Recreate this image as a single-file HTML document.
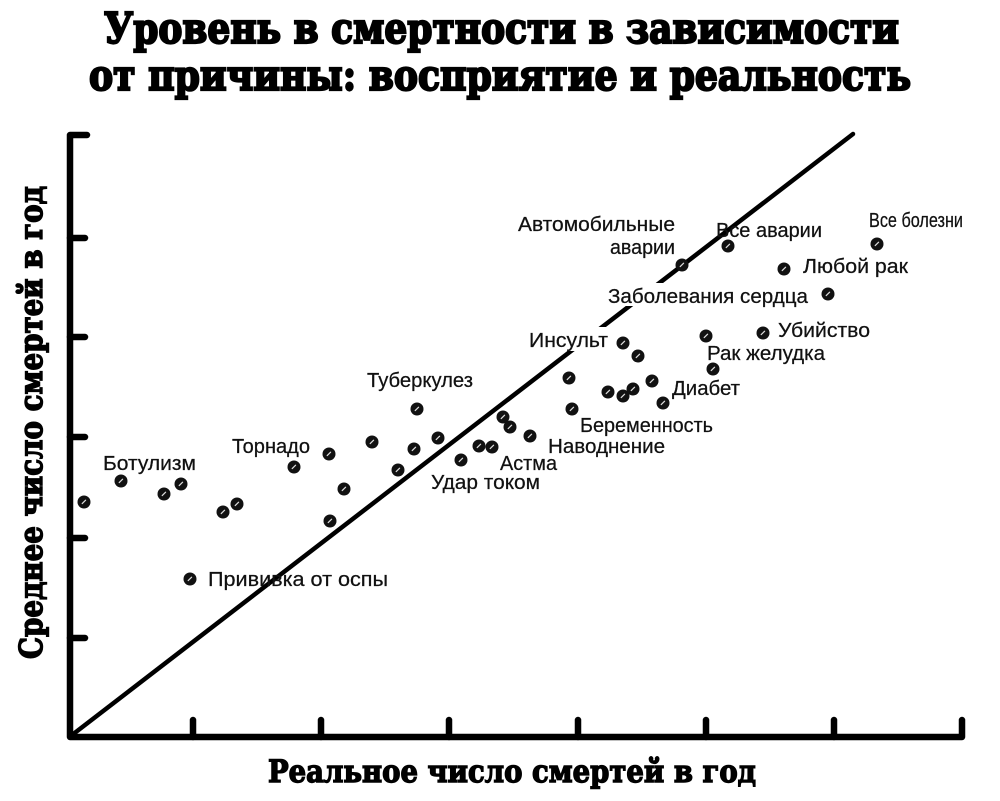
<!DOCTYPE html>
<html>
<head>
<meta charset="utf-8">
<style>
html,body{margin:0;padding:0;background:#fff;}
svg{display:block;}
.t{font-family:"DejaVu Serif","Liberation Serif",serif;font-weight:bold;fill:#000;stroke:#000;}
.l{font-family:"Liberation Sans","DejaVu Sans",sans-serif;fill:#111;font-size:20px;stroke:#111;stroke-width:0.25;}
</style>
</head>
<body>
<svg width="1000" height="801" viewBox="0 0 1000 801" xmlns="http://www.w3.org/2000/svg">
<rect width="1000" height="801" fill="#fff"/>
<!-- Title -->
<text class="t" x="104" y="43" font-size="42" stroke-width="2.2" textLength="795" lengthAdjust="spacingAndGlyphs">Уровень в смертности в зависимости</text>
<text class="t" x="89" y="90" font-size="42" stroke-width="2.2" textLength="822" lengthAdjust="spacingAndGlyphs">от причины: восприятие и реальность</text>

<!-- Axis labels -->
<text class="t" x="268" y="782" font-size="31" stroke-width="1.4" textLength="488" lengthAdjust="spacingAndGlyphs">Реальное число смертей в год</text>
<text class="t" transform="translate(42,659) rotate(-90)" x="0" y="0" font-size="32" stroke-width="1.4" textLength="473" lengthAdjust="spacingAndGlyphs">Среднее число смертей в год</text>

<!-- Diagonal -->
<line x1="72" y1="735" x2="853" y2="134" stroke="#000" stroke-width="4.5" stroke-linecap="round"/>

<!-- Axes -->
<g stroke="#000" stroke-width="6.5" stroke-linecap="round" stroke-linejoin="round" fill="none">
<path d="M87 135 L70 135 L70 737 L962 737 L962 720"/>
<line x1="70" y1="238" x2="85" y2="238"/>
<line x1="70" y1="337" x2="85" y2="337"/>
<line x1="70" y1="437" x2="85" y2="437"/>
<line x1="70" y1="538" x2="85" y2="538"/>
<line x1="70" y1="638" x2="85" y2="638"/>
<line x1="193" y1="737" x2="193" y2="720"/>
<line x1="321" y1="737" x2="321" y2="720"/>
<line x1="449" y1="737" x2="449" y2="720"/>
<line x1="578" y1="737" x2="578" y2="720"/>
<line x1="706" y1="737" x2="706" y2="720"/>
<line x1="834" y1="737" x2="834" y2="720"/>
</g>

<!-- white label backgrounds breaking the diagonal -->
<rect x="526" y="327" width="86" height="24" fill="#fff"/>
<rect x="606" y="283" width="204" height="23" fill="#fff"/>

<!-- Labels -->
<text class="l" x="103" y="470" textLength="93" lengthAdjust="spacingAndGlyphs">Ботулизм</text>
<text class="l" x="232" y="453" textLength="78" lengthAdjust="spacingAndGlyphs">Торнадо</text>
<text class="l" x="208" y="586" textLength="180" lengthAdjust="spacingAndGlyphs">Прививка от оспы</text>
<text class="l" x="367" y="387" textLength="106" lengthAdjust="spacingAndGlyphs">Туберкулез</text>
<text class="l" x="431" y="489" textLength="109" lengthAdjust="spacingAndGlyphs">Удар током</text>
<text class="l" x="500" y="470" textLength="57" lengthAdjust="spacingAndGlyphs">Астма</text>
<text class="l" x="548" y="453" textLength="117" lengthAdjust="spacingAndGlyphs">Наводнение</text>
<text class="l" x="580" y="432" textLength="133" lengthAdjust="spacingAndGlyphs">Беременность</text>
<text class="l" x="672" y="395" textLength="68" lengthAdjust="spacingAndGlyphs">Диабет</text>
<text class="l" x="529" y="347" textLength="79" lengthAdjust="spacingAndGlyphs">Инсульт</text>
<text class="l" x="707" y="360" textLength="118" lengthAdjust="spacingAndGlyphs">Рак желудка</text>
<text class="l" x="778" y="337" textLength="92" lengthAdjust="spacingAndGlyphs">Убийство</text>
<text class="l" x="608" y="303" textLength="200" lengthAdjust="spacingAndGlyphs">Заболевания сердца</text>
<text class="l" x="803" y="273" textLength="105" lengthAdjust="spacingAndGlyphs">Любой рак</text>
<text class="l" x="518" y="231" textLength="157" lengthAdjust="spacingAndGlyphs">Автомобильные</text>
<text class="l" x="610" y="254" textLength="65" lengthAdjust="spacingAndGlyphs">аварии</text>
<text class="l" x="716" y="237" textLength="106" lengthAdjust="spacingAndGlyphs">Все аварии</text>
<text class="l" x="869" y="227" textLength="94" lengthAdjust="spacingAndGlyphs">Все болезни</text>

<!-- Points -->
<defs>
<g id="d">
<circle r="6.5" fill="#111"/>
<line x1="-1.8" y1="1.6" x2="1.6" y2="-1.8" stroke="#ddd" stroke-width="1.2" stroke-linecap="round"/>
</g>
</defs>
<g>
<use href="#d" x="84" y="502"/>
<use href="#d" x="121" y="481"/>
<use href="#d" x="164" y="494"/>
<use href="#d" x="181" y="484"/>
<use href="#d" x="190" y="579"/>
<use href="#d" x="223" y="512"/>
<use href="#d" x="237" y="504"/>
<use href="#d" x="294" y="467"/>
<use href="#d" x="329" y="454"/>
<use href="#d" x="330" y="521"/>
<use href="#d" x="344" y="489"/>
<use href="#d" x="372" y="442"/>
<use href="#d" x="398" y="470"/>
<use href="#d" x="414" y="449"/>
<use href="#d" x="417" y="409"/>
<use href="#d" x="438" y="438"/>
<use href="#d" x="461" y="460"/>
<use href="#d" x="479" y="446"/>
<use href="#d" x="492" y="447"/>
<use href="#d" x="503" y="417"/>
<use href="#d" x="510" y="427"/>
<use href="#d" x="530" y="436"/>
<use href="#d" x="569" y="378"/>
<use href="#d" x="572" y="409"/>
<use href="#d" x="608" y="392"/>
<use href="#d" x="623" y="343"/>
<use href="#d" x="623" y="396"/>
<use href="#d" x="633" y="389"/>
<use href="#d" x="638" y="356"/>
<use href="#d" x="652" y="381"/>
<use href="#d" x="663" y="403"/>
<use href="#d" x="682" y="265"/>
<use href="#d" x="706" y="336"/>
<use href="#d" x="713" y="369"/>
<use href="#d" x="728" y="246"/>
<use href="#d" x="763" y="333"/>
<use href="#d" x="784" y="269"/>
<use href="#d" x="828" y="294"/>
<use href="#d" x="877" y="244"/>
</g>
</svg>
</body>
</html>
